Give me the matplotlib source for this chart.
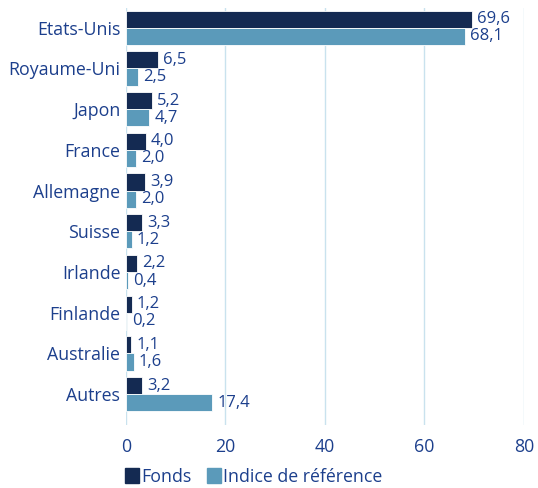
import matplotlib.pyplot as plt
import numpy as np
from matplotlib.patches import Patch

plt.rcParams['font.family'] = ['Open Sans', 'DejaVu Sans']

pays = ['Etats-Unis', 'Royaume-Uni', 'Japon', 'France', 'Allemagne',
        'Suisse', 'Irlande', 'Finlande', 'Australie', 'Autres']
fonds = [69.6, 6.5, 5.2, 4.0, 3.9, 3.3, 2.2, 1.2, 1.1, 3.2]
indice = [68.1, 2.5, 4.7, 2.0, 2.0, 1.2, 0.4, 0.2, 1.6, 17.4]

navy = '#142a52'
bleu = '#5b9aba'
texte = '#1c3f8c'
grille = '#c9e2ee'

fig = plt.figure(figsize=(5.38, 4.88), dpi=100)
ax = fig.add_axes([0.234, 0.129, 0.74, 0.855])

y = np.arange(len(pays))
h = 0.42
ax.barh(y - h / 2, fonds, height=h, color=navy, edgecolor='white', linewidth=0.6, zorder=3)
ax.barh(y + h / 2, indice, height=h, color=bleu, edgecolor='white', linewidth=0.6, zorder=3)

for i in range(len(pays)):
    ax.text(fonds[i] + 1.0, y[i] - h / 2, f'{fonds[i]:.1f}'.replace('.', ','),
            va='center', ha='left', fontsize=12, color=texte)
    ax.text(indice[i] + 1.0, y[i] + h / 2, f'{indice[i]:.1f}'.replace('.', ','),
            va='center', ha='left', fontsize=12, color=texte)

ax.set_xlim(0, 80)
ax.set_ylim(9.76, -0.49)
ax.set_yticks(y)
ax.set_yticklabels(pays, fontsize=12.8, color=texte)
ax.set_xticks([0, 20, 40, 60, 80])
ax.tick_params(axis='x', labelsize=12.8, colors=texte, length=0, pad=9)
ax.tick_params(axis='y', length=0, pad=4)
ax.grid(axis='x', color=grille, linewidth=1, zorder=0)
for s in ax.spines.values():
    s.set_visible(False)

handles = [Patch(color=navy, label='Fonds'), Patch(color=bleu, label='Indice de référence')]
leg = fig.legend(handles=handles, loc='lower left', bbox_to_anchor=(0.203, -0.028), ncol=2,
                 frameon=False, fontsize=12.8, handlelength=0.75, handleheight=0.9,
                 handletextpad=0.15, columnspacing=0.9)
for t in leg.get_texts():
    t.set_color(texte)

fig.savefig('out.png', dpi=100)
